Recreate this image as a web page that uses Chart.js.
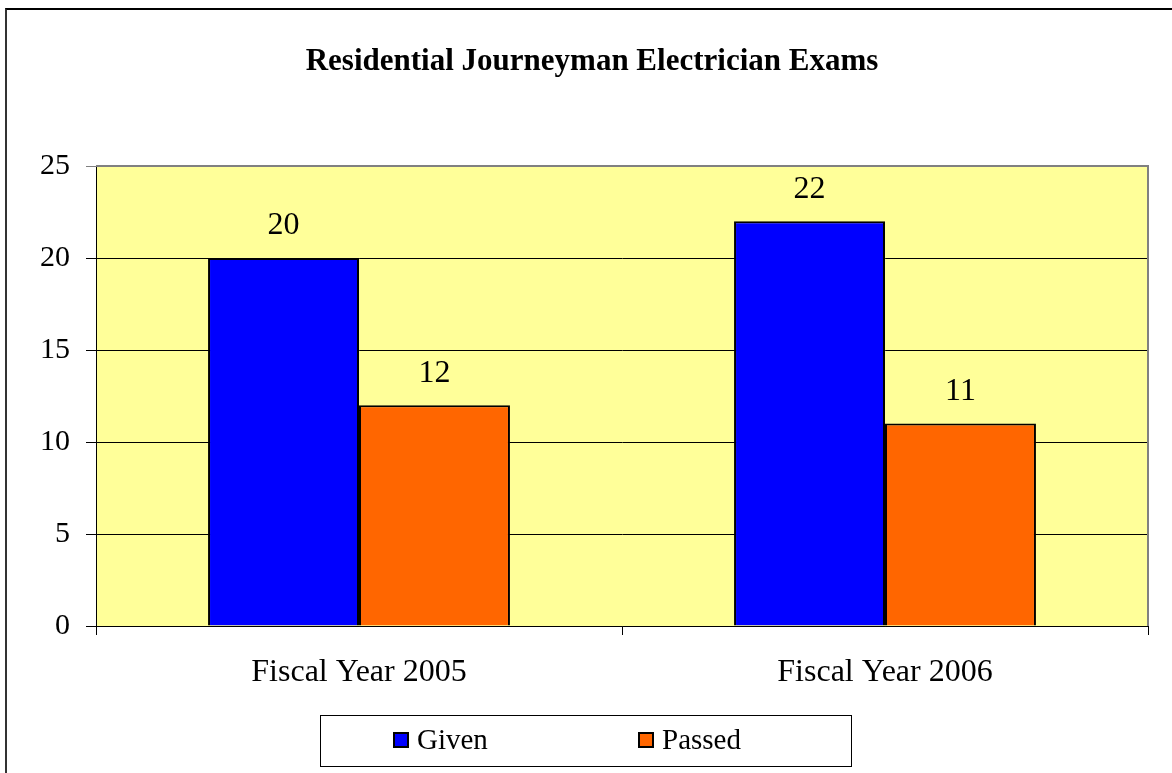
<!DOCTYPE html>
<html>
<head>
<meta charset="utf-8">
<script src="https://cdn.jsdelivr.net/npm/chart.js@4/dist/chart.umd.min.js"></script>
<style>
  body { margin: 0; background: #fff; }
  #wrap { position: relative; width: 1172px; height: 773px; overflow: hidden; }
  #frame { position: absolute; left: 5px; top: 8px; width: 1300px; height: 900px; border-left: 2px solid #333; border-top: 2px solid #000; }
</style>
</head>
<body>
<div id="wrap">
  <div id="frame"></div>
  <canvas id="chart" width="1172" height="773"></canvas>
</div>
<script>
// DATA
const categories = ['Fiscal Year 2005', 'Fiscal Year 2006'];
const given = [20, 22];
const passed = [12, 11];
const yTicks = [0, 5, 10, 15, 20, 25];
const seriesNames = ['Given', 'Passed'];
const seriesColors = ['#0000FF', '#FF6600'];

const FONT = '"Liberation Serif", "Times New Roman", serif';

// title, plot background, labels, legend
const decor = {
    id: 'decor',
    beforeDraw(chart) {
        const c = chart.ctx, a = chart.chartArea;
        c.save();
        c.fillStyle = '#FFFF99';
        c.fillRect(a.left, a.top, a.right - a.left, a.bottom - a.top);
        c.restore();
    },
    afterDatasetsDraw(chart) {
        const c = chart.ctx, a = chart.chartArea;
        c.save();
        // gray frame top / right
        c.strokeStyle = '#808080';
        c.lineWidth = 2;
        c.beginPath();
        c.moveTo(a.left, a.top);
        c.lineTo(a.right, a.top);
        c.lineTo(a.right, a.bottom);
        c.stroke();

        // value labels
        c.fillStyle = '#000';
        c.font = '32px ' + FONT;
        c.textAlign = 'center';
        c.textBaseline = 'middle';
        chart.data.datasets.forEach((ds, i) => {
            chart.getDatasetMeta(i).data.forEach((bar, j) => {
                c.fillText(String(ds.data[j]), bar.x, bar.y - 32);
            });
        });

        // title
        c.font = 'bold 31px ' + FONT;
        c.fillText('Residential Journeyman Electrician Exams', 592, 62);

        // legend
        c.strokeStyle = '#000';
        c.lineWidth = 1;
        c.strokeRect(320.5, 715.5, 531, 51);
        const lx = [393, 638];
        c.textAlign = 'left';
        c.font = '29px ' + FONT;
        seriesNames.forEach((n, i) => {
            c.fillStyle = seriesColors[i];
            c.fillRect(lx[i], 732, 16, 16);
            c.lineWidth = 2;
            c.strokeStyle = '#000';
            c.strokeRect(lx[i] + 1, 733, 14, 14);
            c.fillStyle = '#000';
            c.fillText(n, lx[i] + 24, 741);
        });
        c.restore();
    }
};

new Chart(document.getElementById('chart'), {
    type: 'bar',
    data: {
        labels: categories,
        datasets: [
            { label: seriesNames[0], data: given, backgroundColor: seriesColors[0], borderColor: '#000', borderWidth: 2 },
            { label: seriesNames[1], data: passed, backgroundColor: seriesColors[1], borderColor: '#000', borderWidth: 2 }
        ]
    },
    options: {
        responsive: false,
        animation: false,
        categoryPercentage: 0.574,
        barPercentage: 1,
        layout: { padding: { left: 0, top: 166, right: 24, bottom: 0 } },
        plugins: {
            legend: { display: false },
            title: { display: false },
            tooltip: { enabled: false }
        },
        scales: {
            x: {
                grid: { drawOnChartArea: false, drawTicks: true, tickLength: 9, offset: true, color: '#000' },
                border: { color: '#000', width: 1 },
                ticks: { color: '#000', font: { family: FONT, size: 32 }, padding: 18 },
                afterFit(s) { s.height = 147; }
            },
            y: {
                min: 0,
                max: 25,
                afterBuildTicks(s) { s.ticks = yTicks.map(v => ({ value: v })); },
                grid: {
                    color: ctx => ctx.tick && ctx.tick.value === 25 ? '#808080' : '#000',
                    tickLength: 10
                },
                border: { color: '#000', width: 1 },
                ticks: { color: '#000', font: { family: FONT, size: 30 }, padding: 16 },
                afterFit(s) { s.width = 96; }
            }
        }
    },
    plugins: [decor]
});
</script>
</body>
</html>
